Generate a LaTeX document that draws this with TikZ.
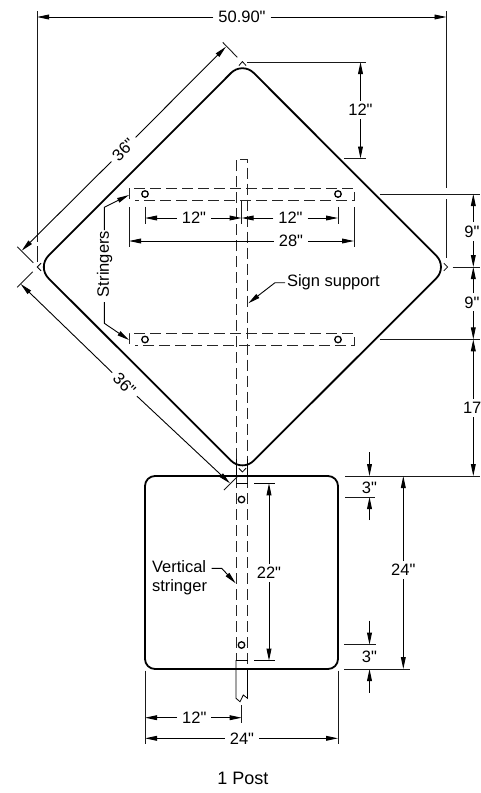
\documentclass[tikz,border=0pt]{standalone}
\usepackage{fontspec}
\setmainfont{Liberation Sans}
\newfontfamily\plainsans{Liberation Sans}
\usetikzlibrary{arrows.meta,calc}
\tikzset{
  outline/.style={line width=1.8pt,black},
  hidden/.style={line width=0.9pt,black!85,dash pattern=on 11pt off 5pt},
  thinline/.style={line width=0.8pt,black},
  ext/.style={line width=0.9pt,black!90},
  tip/.style={line width=0.9pt,black,-{Stealth[length=12pt,width=4.8pt,inset=0pt]}},
  dimtext/.style={font=\plainsans\fontsize{16.5}{18}\selectfont,inner xsep=5pt,inner ysep=3pt,outer sep=0pt},
  notetext/.style={font=\plainsans\fontsize{16.5}{18.7}\selectfont,inner sep=0pt,outer sep=0pt},
  hole/.style={circle,draw,line width=1.3pt,minimum size=6.5pt,inner sep=0pt},
}
\begin{document}
\begin{tikzpicture}[x=1pt,y=-1pt]
\useasboundingbox (0,0) rectangle (480,793);
% outlines
\coordinate (dT) at (242.4,61.6);
\coordinate (dL) at (37.2,267);
\coordinate (dR) at (447.6,267);
\coordinate (dB) at (242.4,472);
\draw[outline,rounded corners=16pt] ($(dT)!0.5!(dR)$) -- (dR) -- (dB) -- (dL) -- (dT) -- cycle;
\draw[outline,rounded corners=10pt] (241,476) -- (338,476) -- (338,669) -- (145,669) -- (145,476) -- cycle;
% corner marks
\draw[thinline] (239,65.5) -- (dT) -- (246,65.5);
\draw[thinline] (443.8,263.2) -- (dR) -- (443.8,270.8);
\draw[thinline] (41,263.2) -- (dL) -- (41,270.8);
\draw[thinline] (238.8,468.2) -- (dB) -- (246,468.2);
% sign support
\draw[hidden] (236,459) -- (236,159) -- (247.5,159) -- (247.5,459);
\draw[thinline] (236,459) -- (236,476);
\draw[thinline] (247.5,459) -- (247.5,476);
\draw[hidden] (236,477) -- (236,660);
\draw[hidden] (247.5,477) -- (247.5,669);
\draw[thinline] (236,660) -- (236,698.3) -- (240,701.7) -- (243.3,695) -- (247.5,698.3) -- (247.5,669);
% horizontal stringers
\draw[hidden] (129,199) -- (129,188) -- (354,188) -- (354,200.5) -- (135,200.5);
\draw[hidden] (129,344) -- (129,333) -- (354,333) -- (354,345) -- (135,345);
% vertical stringer ends
\draw[thinline] (236,483.3) -- (247.5,483.3) (254,483.3) -- (275,483.3);
\draw[thinline] (236,660.7) -- (247.5,660.7) (254,660.7) -- (275,660.7);
% holes
\node[hole] (h1) at (145,194) {};
\node[hole] (h2) at (338,194) {};
\node[hole] (h3) at (145,339.5) {};
\node[hole] (h4) at (338,339.5) {};
\node[hole] (h5) at (241.5,499.5) {};
\node[hole] (h6) at (241.5,645) {};
% 50.90
\node[dimtext] (l5090) at (242,17) {50.90"};
\coordinate (a1) at (37,17); \coordinate (a2) at (446.5,17);
\draw[tip] (l5090) -- (a1);
\draw[tip] (l5090) -- (a2);
\draw[ext] (37,11) -- (37,242) (37,246) -- (37,262);
\draw[ext] (446.5,11) -- (446.5,188) (446.5,199) -- (446.5,258);
% upper 36
\node[dimtext,rotate=45] (l36a) at (123.5,149.5) {36"};
\coordinate (b1) at (21.7,250.7); \coordinate (b2) at (226,46.7);
\draw[tip] (l36a) -- (b1);
\draw[tip] (l36a) -- (b2);
\draw[ext] (222.7,42.3) -- (237.3,57.3);
\draw[ext] (17.3,246.7) -- (33.3,262.7);
% lower 36
\node[dimtext,rotate=-45] (l36b) at (124.5,384.5) {36"};
\coordinate (c1) at (20.7,284); \coordinate (c2) at (230,483.3);
\draw[tip] (l36b) -- (c1);
\draw[tip] (l36b) -- (c2);
\draw[ext] (17.3,287.3) -- (32.7,271.7);
\draw[ext] (224,490) -- (237.3,476.7);
% 12 top
\node[dimtext] (l12v) at (360.5,110) {12"};
\coordinate (d1) at (360.5,62); \coordinate (d2) at (360.5,158.5);
\draw[tip] (l12v) -- (d1);
\draw[tip] (l12v) -- (d2);
\draw[ext] (247,62) -- (366,62);
\draw[ext] (344,158.5) -- (366,158.5);
% stringer 12 and 12
\node[dimtext] (l12a) at (194,218) {12"};
\node[dimtext] (l12b) at (290.5,218) {12"};
\coordinate (e1) at (145,218); \coordinate (e2) at (241.6,218); \coordinate (e3) at (338,218);
\draw[tip] (l12a) -- (e1);
\draw[tip] (l12a) -- (e2);
\draw[tip] (l12b) -- (e2);
\draw[tip] (l12b) -- (e3);
\draw[ext] (145,206.5) -- (145,224);
\draw[ext] (241.6,200.5) -- (241.6,224);
\draw[ext] (338,206.5) -- (338,224);
% 28
\node[dimtext] (l28) at (291,241) {28"};
\coordinate (f1) at (129,241); \coordinate (f2) at (354,241);
\draw[tip] (l28) -- (f1);
\draw[tip] (l28) -- (f2);
\draw[ext] (129,207) -- (129,247);
\draw[ext] (354,207) -- (354,247);
% Stringers note
\node[notetext,rotate=90] (nS) at (104.5,264) {Stringers};
\coordinate (g1) at (129,195); \coordinate (g2) at (129,340);
\coordinate (g1k) at (104.3,207.3); \coordinate (g2k) at (104.3,323.3);
\draw[tip] (104.3,230) -- (g1k) -- (g1);
\draw[tip] (104.3,302) -- (g2k) -- (g2);
% Sign support note
\node[notetext,anchor=west] (nP) at (287,282) {Sign support};
\coordinate (p1) at (248.3,303.3); \coordinate (p1k) at (275,282.7);
\draw[tip] (285,282.7) -- (p1k) -- (p1);
% Vertical stringer note
\node[notetext,anchor=north west,align=left] (nV) at (152,560.5) {Vertical\\stringer};
\coordinate (v1) at (235.7,583.3); \coordinate (v1k) at (221.7,568.3);
\draw[tip] (211.7,568.3) -- (v1k) -- (v1);
% 22
\node[dimtext] (l22) at (269,573) {22"};
\coordinate (i1) at (269,483.3); \coordinate (i2) at (269,660.7);
\draw[tip] (l22) -- (i1);
\draw[tip] (l22) -- (i2);
% right column
\draw[ext] (380,194) -- (480,194);
\draw[ext] (452.7,267) -- (480,267);
\draw[ext] (380,339.3) -- (480,339.3);
\draw[ext] (345,476) -- (480,476);
\node[dimtext] (l9a) at (472,231.5) {9"};
\node[dimtext] (l9b) at (472,302.5) {9"};
\node[dimtext,anchor=west,inner xsep=0pt] (l17) at (463,408) {17};
\coordinate (j1) at (473.3,194); \coordinate (j2) at (473.3,267); \coordinate (j3) at (473.3,339.3); \coordinate (j4) at (473.3,476);
\draw[tip] (473.3,222) -- (j1);
\draw[tip] (473.3,241) -- (j2);
\draw[tip] (473.3,293) -- (j2);
\draw[tip] (473.3,311) -- (j3);
\draw[tip] (473.3,399) -- (j3);
\draw[tip] (473.3,417) -- (j4);
% 3 top
\node[dimtext] (l3a) at (369.5,488) {3"};
\coordinate (k1) at (369.5,476); \coordinate (k2) at (369.5,497);
\draw[tip] (369.5,452) -- (k1);
\draw[tip] (369.5,520) -- (k2);
\draw[ext] (345,497) -- (375,497);
% 3 bottom
\node[dimtext] (l3b) at (369.5,656.5) {3"};
\coordinate (m1) at (369.5,644.7); \coordinate (m2) at (369.5,669);
\draw[tip] (369.5,620.7) -- (m1);
\draw[tip] (369.5,692.7) -- (m2);
\draw[ext] (344.3,644.7) -- (376,644.7);
\draw[ext] (344.3,669) -- (410,669);
% 24 vertical
\node[dimtext] (l24v) at (403.3,570) {24"};
\coordinate (n1) at (403.3,476); \coordinate (n2) at (403.3,669);
\draw[tip] (l24v) -- (n1);
\draw[tip] (l24v) -- (n2);
% bottom dims
\node[dimtext] (l12c) at (194.3,717.7) {12"};
\node[dimtext] (l24h) at (242,738.3) {24"};
\coordinate (o1) at (145,717.7); \coordinate (o2) at (241.7,717.7);
\coordinate (o3) at (145,738.3); \coordinate (o4) at (338,738.3);
\draw[tip] (l12c) -- (o1);
\draw[tip] (l12c) -- (o2);
\draw[tip] (l24h) -- (o3);
\draw[tip] (l24h) -- (o4);
\draw[ext] (145,670.7) -- (145,744);
\draw[ext] (338,670.7) -- (338,744);
\draw[ext] (241.7,705) -- (241.7,723);
% title
\node[font=\plainsans\fontsize{18}{20}\selectfont,inner sep=0pt] (title) at (243,778) {1 Post};
\end{tikzpicture}
\end{document}
